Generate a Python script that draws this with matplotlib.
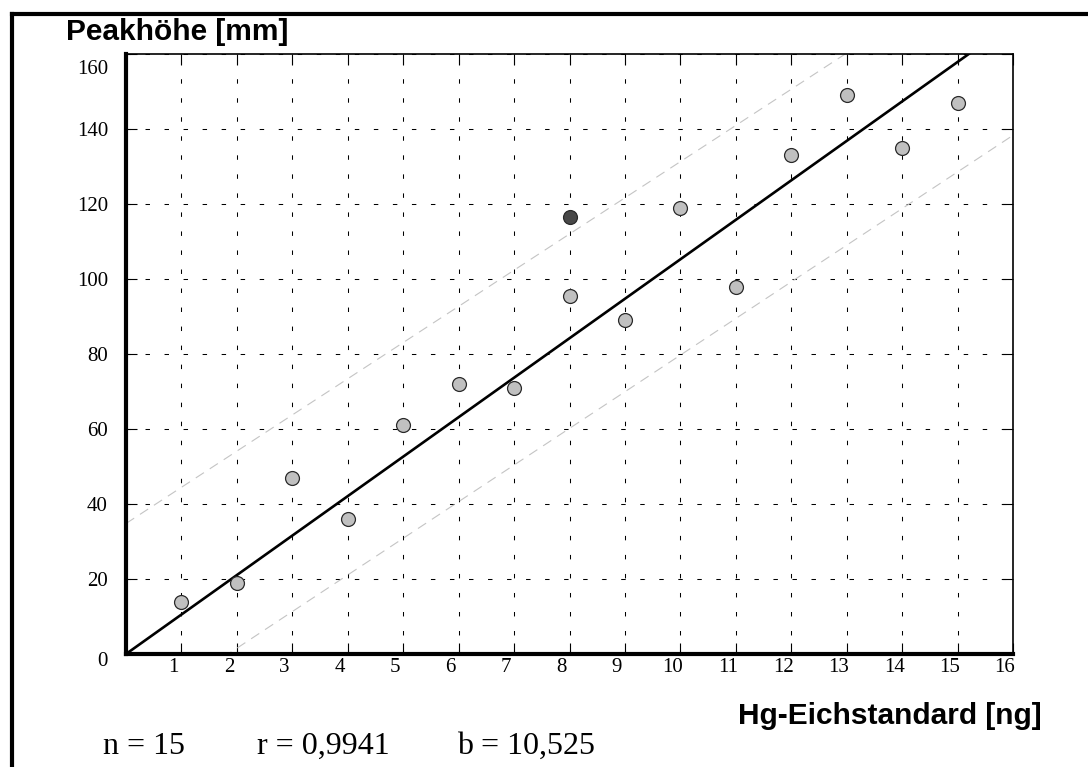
import numpy as np
import matplotlib
matplotlib.use("Agg")
import matplotlib.pyplot as plt
from matplotlib.lines import Line2D
from matplotlib.transforms import ScaledTranslation

# ── data ──────────────────────────────────────────────────────────────────────
hg_ng = [1, 2, 3, 4, 5, 6, 7, 8, 9, 10, 11, 12, 13, 14, 15]
peak_mm = [14, 19, 47, 36, 61, 72, 71, 95.5, 89, 119, 98, 133, 149, 135, 147]
outlier_x = [8]
outlier_y = [116.5]

slope_b = 10.525                      # regression through origin
band_upper = (34.8, 9.65)             # intercept, slope of upper dashed band
band_lower = (-18.0, 9.77)            # intercept, slope of lower dashed band

x_ticks = list(range(1, 17))
y_ticks = [0, 20, 40, 60, 80, 100, 120, 140, 160]
stats_text = ["n = 15", "r = 0,9941", "b = 10,525"]

# ── plot ──────────────────────────────────────────────────────────────────────
plt.rcParams["lines.scale_dashes"] = False
serif = ["Liberation Serif", "DejaVu Serif"]
sans = ["Liberation Sans", "DejaVu Sans"]

fig = plt.figure(figsize=(10.88, 7.67), dpi=100)
W, H = 1088, 767
ax = fig.add_axes([126 / W, 1 - 654 / H, (1013 - 126) / W, (654 - 54) / H])

ax.set_xlim(0, 16)
ax.set_ylim(0, 160)
ax.set_xticks(x_ticks)
ax.set_yticks(y_ticks)
ax.grid(True, color="black", lw=0.75, ls=(0, (3.2, 10.5)))
ax.set_axisbelow(True)

xx = np.array([0, 16])
ax.plot(xx, band_upper[0] + band_upper[1] * xx, color="#c4c4c4", lw=0.8,
        ls=(0, (7, 5)), zorder=2)
ax.plot(xx, band_lower[0] + band_lower[1] * xx, color="#c4c4c4", lw=0.8,
        ls=(0, (7, 5)), zorder=2)
ax.plot(xx, slope_b * xx, color="black", lw=1.9, zorder=3)

ax.plot(hg_ng, peak_mm, "o", ms=10, mfc="#c0c0c0", mec="#2a2a2a", mew=0.9,
        zorder=4, clip_on=False)
ax.plot(outlier_x, outlier_y, "o", ms=10, mfc="#484848", mec="#2a2a2a",
        mew=0.9, zorder=4)

for side in ["left", "bottom"]:
    ax.spines[side].set_linewidth(3)
for side in ["top", "right"]:
    ax.spines[side].set_linewidth(1.2)

ax.tick_params(direction="in", top=True, right=True, length=8, width=0.8,
               labelsize=15)
ax.tick_params(axis="y", pad=13)
ax.tick_params(axis="x", pad=3)
for lab in ax.get_xticklabels() + ax.get_yticklabels():
    lab.set_family(serif)
# x labels sit a little left of their ticks
for lab in ax.get_xticklabels():
    lab.set_transform(lab.get_transform() + ScaledTranslation(-0.08, 0, fig.dpi_scale_trans))
ylabs = ax.get_yticklabels()
ylabs[0].set_transform(ylabs[0].get_transform() + ScaledTranslation(0, -0.05, fig.dpi_scale_trans))
ylabs[-1].set_transform(ylabs[-1].get_transform() + ScaledTranslation(0, -0.13, fig.dpi_scale_trans))

fig.text(66 / W, 1 - 40 / H, "Peakhöhe [mm]", family=sans, weight="bold",
         fontsize=21.5, ha="left", va="baseline")
fig.text(1042 / W, 1 - 724 / H, "Hg-Eichstandard [ng]", family=sans,
         weight="bold", fontsize=21.5, ha="right", va="baseline")

for txt, xpos in zip(stats_text, [103, 257, 457]):
    fig.text(xpos / W, 1 - 754 / H, txt, family=serif, fontsize=23,
             ha="left", va="baseline")

# outer frame (only top and left edges are visible)
fig.add_artist(Line2D([12 / W, 1.0], [1 - 14 / H, 1 - 14 / H], color="black",
                      lw=3, transform=fig.transFigure))
fig.add_artist(Line2D([12 / W, 12 / W], [0.0, 1 - 14 / H], color="black",
                      lw=3, transform=fig.transFigure))

fig.savefig("out.png", dpi=100)
